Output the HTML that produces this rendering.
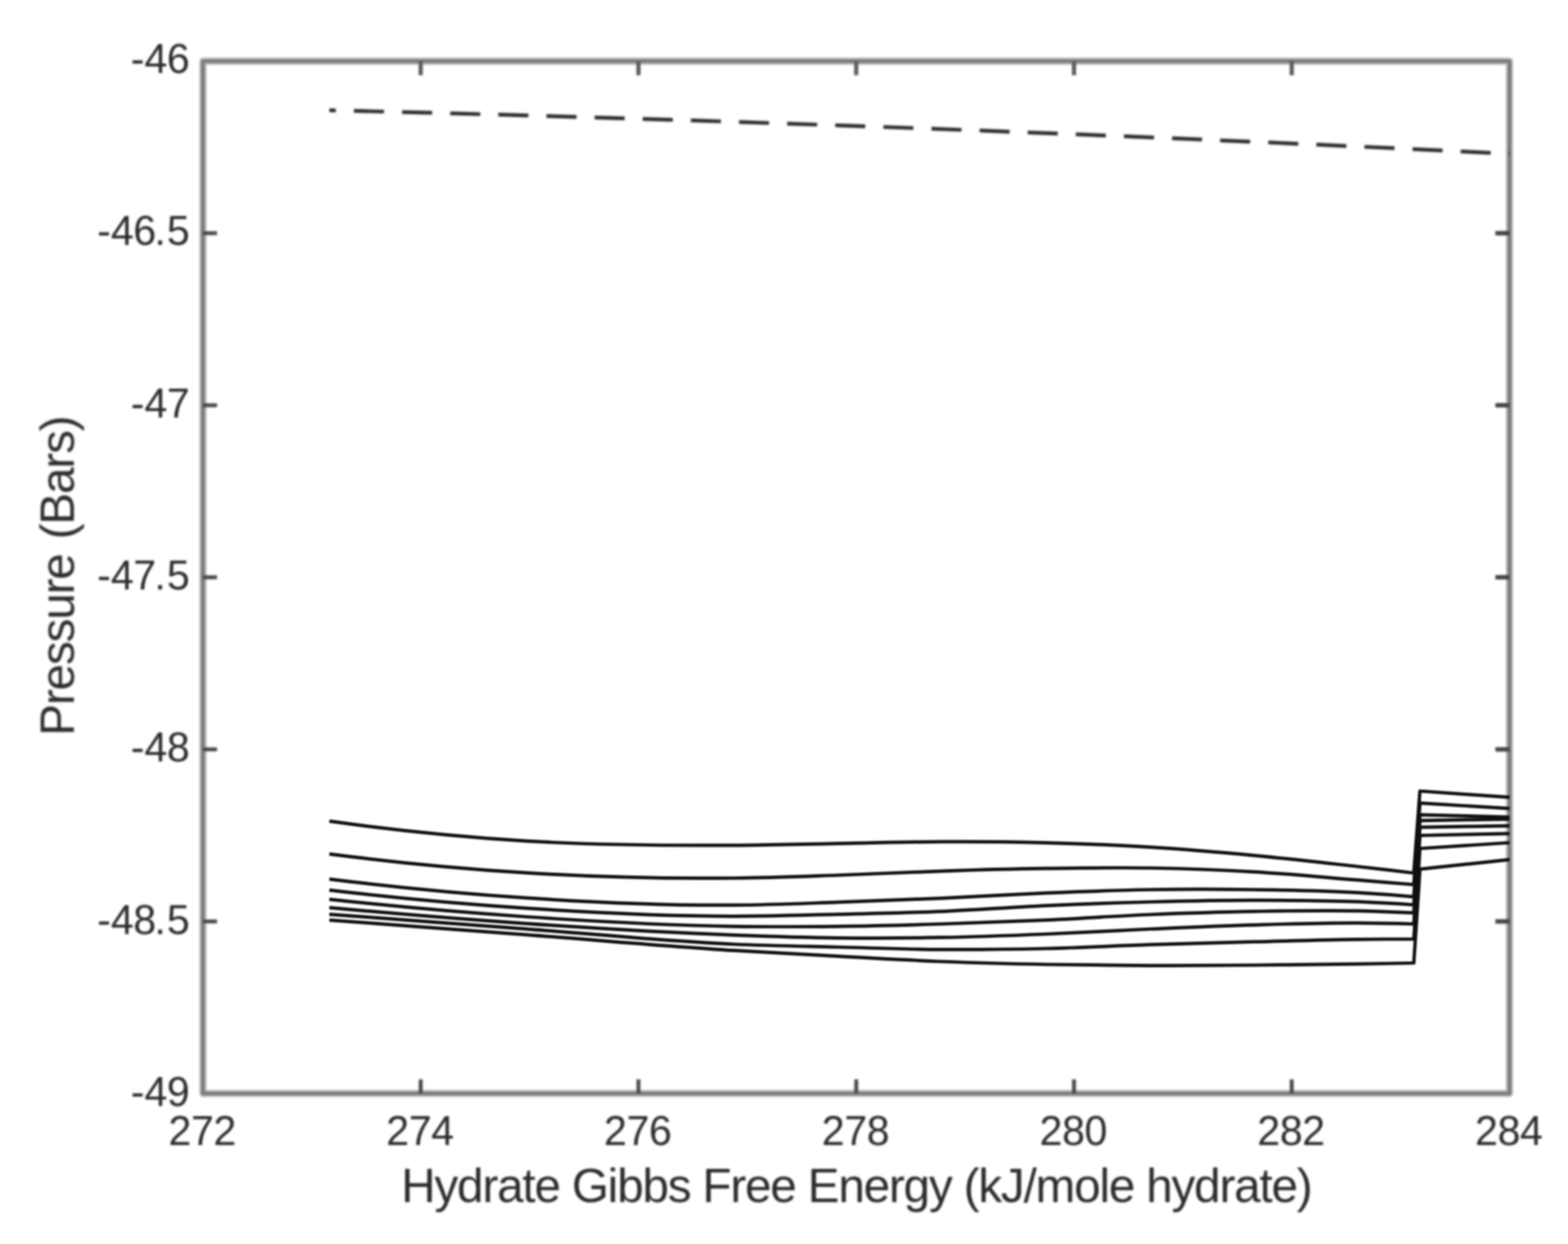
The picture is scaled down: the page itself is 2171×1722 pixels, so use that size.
<!DOCTYPE html>
<html lang="en">
<head>
<meta charset="utf-8">
<title>Hydrate Gibbs Free Energy vs Pressure</title>
<style>
html,body{margin:0;padding:0;background:#fff;}
body{width:2171px;height:1722px;}
svg{display:block;}
text{font-family:"Liberation Sans",sans-serif;fill:#2b2b2b;}
.tick{font-size:57px;}
.xt{letter-spacing:-0.5px;}
.lab{font-size:66px;}
</style>
</head>
<body>
<svg width="2171" height="1722" viewBox="0 0 2171 1722">
<defs>
<filter id="softAxes" x="-3%" y="-3%" width="106%" height="106%" color-interpolation-filters="sRGB"><feGaussianBlur stdDeviation="1.6"/></filter>
<filter id="softLines" x="-3%" y="-3%" width="106%" height="106%" color-interpolation-filters="sRGB"><feGaussianBlur stdDeviation="1.2"/></filter>
<filter id="softText" x="-3%" y="-3%" width="106%" height="106%" color-interpolation-filters="sRGB"><feGaussianBlur stdDeviation="1.6"/></filter>
<filter id="softDash" x="-2%" y="-30%" width="104%" height="160%" color-interpolation-filters="sRGB"><feGaussianBlur stdDeviation="1.6"/></filter>
</defs>
<rect x="0" y="0" width="2171" height="1722" fill="#ffffff"/>

<g id="axes" filter="url(#softAxes)">
<rect x="281.0" y="84.7" width="1809.0" height="1428.8999999999999" fill="none" stroke="#c8c8c8" stroke-width="10.4" stroke-linejoin="round"/>
<rect x="281.0" y="84.7" width="1809.0" height="1428.8999999999999" fill="none" stroke="#7e7e7e" stroke-width="5.8" stroke-linejoin="round"/>
<line x1="582.5" y1="1513.6" x2="582.5" y2="1494.1" stroke="#4a4a4a" stroke-width="5.4"/>
<line x1="582.5" y1="84.7" x2="582.5" y2="104.2" stroke="#5c5c5c" stroke-width="5.8"/>
<line x1="884.0" y1="1513.6" x2="884.0" y2="1494.1" stroke="#4a4a4a" stroke-width="5.4"/>
<line x1="884.0" y1="84.7" x2="884.0" y2="104.2" stroke="#5c5c5c" stroke-width="5.8"/>
<line x1="1185.5" y1="1513.6" x2="1185.5" y2="1494.1" stroke="#4a4a4a" stroke-width="5.4"/>
<line x1="1185.5" y1="84.7" x2="1185.5" y2="104.2" stroke="#5c5c5c" stroke-width="5.8"/>
<line x1="1487.0" y1="1513.6" x2="1487.0" y2="1494.1" stroke="#4a4a4a" stroke-width="5.4"/>
<line x1="1487.0" y1="84.7" x2="1487.0" y2="104.2" stroke="#5c5c5c" stroke-width="5.8"/>
<line x1="1788.5" y1="1513.6" x2="1788.5" y2="1494.1" stroke="#4a4a4a" stroke-width="5.4"/>
<line x1="1788.5" y1="84.7" x2="1788.5" y2="104.2" stroke="#5c5c5c" stroke-width="5.8"/>
<line x1="281.0" y1="322.8" x2="300.5" y2="322.8" stroke="#4a4a4a" stroke-width="5.4"/>
<line x1="2090.0" y1="322.8" x2="2070.5" y2="322.8" stroke="#454545" stroke-width="6.2"/>
<line x1="281.0" y1="561.0" x2="300.5" y2="561.0" stroke="#4a4a4a" stroke-width="5.4"/>
<line x1="2090.0" y1="561.0" x2="2070.5" y2="561.0" stroke="#454545" stroke-width="6.2"/>
<line x1="281.0" y1="799.1" x2="300.5" y2="799.1" stroke="#4a4a4a" stroke-width="5.4"/>
<line x1="2090.0" y1="799.1" x2="2070.5" y2="799.1" stroke="#454545" stroke-width="6.2"/>
<line x1="281.0" y1="1037.3" x2="300.5" y2="1037.3" stroke="#4a4a4a" stroke-width="5.4"/>
<line x1="2090.0" y1="1037.3" x2="2070.5" y2="1037.3" stroke="#454545" stroke-width="6.2"/>
<line x1="281.0" y1="1275.5" x2="300.5" y2="1275.5" stroke="#4a4a4a" stroke-width="5.4"/>
<line x1="2090.0" y1="1275.5" x2="2070.5" y2="1275.5" stroke="#454545" stroke-width="6.2"/>
</g>
<g id="series" filter="url(#softLines)">
<g stroke="#101010" stroke-width="4.7" fill="none" stroke-linejoin="round">
<path d="M456.0,1136.7 C546.7,1149.4 637.3,1158.5 728.0,1164.1 C824.0,1170.0 920.0,1170.5 1016.0,1170.1 C1064.0,1169.9 1112.0,1168.4 1160.0,1167.6 C1208.0,1166.8 1256.0,1165.4 1304.0,1165.2 C1352.0,1165.0 1400.0,1165.4 1448.0,1166.6 C1496.0,1167.8 1544.0,1169.7 1592.0,1172.6 C1640.0,1175.5 1688.0,1179.6 1736.0,1184.1 C1784.0,1188.6 1832.0,1194.1 1880.0,1199.5 C1905.8,1202.4 1931.7,1205.4 1957.5,1208.5 L1966.0,1095.0 L2090.0,1103.7"/>
<path d="M456.0,1182.1 C546.7,1193.9 637.3,1202.6 728.0,1208.2 C824.0,1214.1 920.0,1216.5 1016.0,1215.5 C1064.0,1215.0 1112.0,1213.1 1160.0,1211.5 C1208.0,1209.9 1256.0,1207.3 1304.0,1205.8 C1352.0,1204.2 1400.0,1202.9 1448.0,1202.2 C1496.0,1201.5 1544.0,1200.7 1592.0,1201.5 C1640.0,1202.3 1688.0,1204.0 1736.0,1206.8 C1784.0,1209.6 1832.0,1214.3 1880.0,1218.2 C1905.8,1220.3 1931.7,1222.4 1957.5,1224.5 L1966.0,1111.7 L2090.0,1119.1"/>
<path d="M456.0,1216.8 C546.7,1228.2 637.3,1236.9 728.0,1242.9 C824.0,1249.3 920.0,1253.6 1016.0,1252.9 C1064.0,1252.6 1112.0,1250.5 1160.0,1248.9 C1208.0,1247.3 1256.0,1245.4 1304.0,1243.3 C1352.0,1241.2 1400.0,1238.2 1448.0,1236.2 C1496.0,1234.2 1544.0,1232.3 1592.0,1231.5 C1640.0,1230.7 1688.0,1230.8 1736.0,1231.5 C1784.0,1232.2 1832.0,1232.8 1880.0,1235.6 C1905.8,1237.1 1931.7,1239.0 1957.5,1241.3 L1966.0,1127.8 L2090.0,1131.1"/>
<path d="M456.0,1232.2 C546.7,1242.9 637.3,1251.2 728.0,1257.2 C824.0,1263.5 920.0,1268.3 1016.0,1268.3 C1064.0,1268.3 1112.0,1266.7 1160.0,1265.6 C1208.0,1264.5 1256.0,1263.6 1304.0,1261.6 C1352.0,1259.6 1400.0,1255.8 1448.0,1253.6 C1496.0,1251.4 1544.0,1249.7 1592.0,1248.5 C1640.0,1247.3 1688.0,1246.2 1736.0,1246.2 C1784.0,1246.2 1832.0,1246.2 1880.0,1248.2 C1905.8,1249.3 1931.7,1250.7 1957.5,1252.5 L1966.0,1135.8 L2090.0,1133.8"/>
<path d="M456.0,1244.9 C546.7,1254.8 637.3,1262.8 728.0,1269.0 C824.0,1275.5 920.0,1280.8 1016.0,1282.3 C1064.0,1283.0 1112.0,1282.8 1160.0,1282.3 C1208.0,1281.8 1256.0,1280.5 1304.0,1279.0 C1352.0,1277.5 1400.0,1275.8 1448.0,1273.6 C1496.0,1271.4 1544.0,1268.0 1592.0,1266.0 C1640.0,1264.0 1688.0,1262.4 1736.0,1261.6 C1784.0,1260.8 1832.0,1259.9 1880.0,1260.9 C1905.8,1261.5 1931.7,1262.4 1957.5,1263.7 L1966.0,1145.1 L2090.0,1143.1"/>
<path d="M456.0,1256.3 C546.7,1264.7 637.3,1272.1 728.0,1278.3 C824.0,1284.9 920.0,1290.7 1016.0,1294.3 C1064.0,1296.1 1112.0,1297.7 1160.0,1298.3 C1208.0,1298.9 1256.0,1298.6 1304.0,1297.7 C1352.0,1296.8 1400.0,1295.0 1448.0,1293.0 C1496.0,1291.0 1544.0,1288.1 1592.0,1286.0 C1640.0,1283.9 1688.0,1281.7 1736.0,1280.3 C1784.0,1278.9 1832.0,1277.4 1880.0,1277.6 C1905.8,1277.7 1931.7,1278.2 1957.5,1279.0 L1966.0,1156.5 L2090.0,1153.8"/>
<path d="M456.0,1265.6 C546.7,1272.4 637.3,1279.1 728.0,1285.8 C824.0,1292.9 920.0,1302.9 1016.0,1307.0 C1064.0,1309.1 1112.0,1309.8 1160.0,1311.0 C1208.0,1312.2 1256.0,1314.1 1304.0,1314.4 C1352.0,1314.7 1400.0,1314.1 1448.0,1313.0 C1496.0,1311.9 1544.0,1309.2 1592.0,1307.7 C1640.0,1306.2 1688.0,1304.9 1736.0,1303.7 C1784.0,1302.5 1832.0,1300.8 1880.0,1300.3 C1905.8,1300.0 1931.7,1299.9 1957.5,1300.0 L1966.0,1174.5 L2090.0,1166.5"/>
<path d="M456.0,1273.6 C546.7,1280.3 637.3,1287.1 728.0,1293.9 C824.0,1301.1 920.0,1309.7 1016.0,1315.7 C1064.0,1318.7 1112.0,1321.2 1160.0,1323.7 C1208.0,1326.2 1256.0,1329.1 1304.0,1331.0 C1352.0,1332.9 1400.0,1334.1 1448.0,1335.0 C1496.0,1335.9 1544.0,1336.4 1592.0,1336.6 C1640.0,1336.8 1688.0,1336.4 1736.0,1336.0 C1784.0,1335.6 1832.0,1335.2 1880.0,1334.4 C1905.8,1334.0 1931.7,1333.5 1957.5,1333.0 L1966.0,1203.2 L2090.0,1189.9"/>
</g>
</g>
<g id="reference" filter="url(#softDash)">
<path d="M456,152.6 Q1273,172.4 2090,212.9" stroke="#2c2c2c" stroke-width="5.2" stroke-dasharray="41.6 25.07" stroke-dashoffset="32.6" fill="none"/>
</g>
<g id="labels" filter="url(#softText)">
<g class="tick xt" text-anchor="middle">
<text x="280.0" y="1584.5">272</text>
<text x="581.5" y="1584.5">274</text>
<text x="883.0" y="1584.5">276</text>
<text x="1184.5" y="1584.5">278</text>
<text x="1486.0" y="1584.5">280</text>
<text x="1787.5" y="1584.5">282</text>
<text x="2089.0" y="1584.5">284</text>
</g>
<g class="tick">
<text x="181.1 199.9 231.1" y="101.1">-46</text>
<text x="134.6 153.4 184.6 213.8 231.1" y="339.0">-46.5</text>
<text x="181.1 199.9 231.1" y="577.8">-47</text>
<text x="134.6 153.4 184.6 213.8 231.1" y="815.9">-47.5</text>
<text x="181.1 199.9 231.1" y="1054.1">-48</text>
<text x="134.6 153.4 184.6 213.8 231.1" y="1293.0">-48.5</text>
<text x="181.1 199.9 231.1" y="1530.6">-49</text>
</g>
<text class="lab" x="1186.5" y="1663.5" text-anchor="middle" textLength="1262" lengthAdjust="spacing">Hydrate Gibbs Free Energy (kJ/mole hydrate)</text>
<text class="lab" style="word-spacing:4px" transform="translate(102.3,796.8) rotate(-90)" x="0" y="0" text-anchor="middle" textLength="443.5" lengthAdjust="spacing">Pressure (Bars)</text>
</g>
</svg>
</body>
</html>
